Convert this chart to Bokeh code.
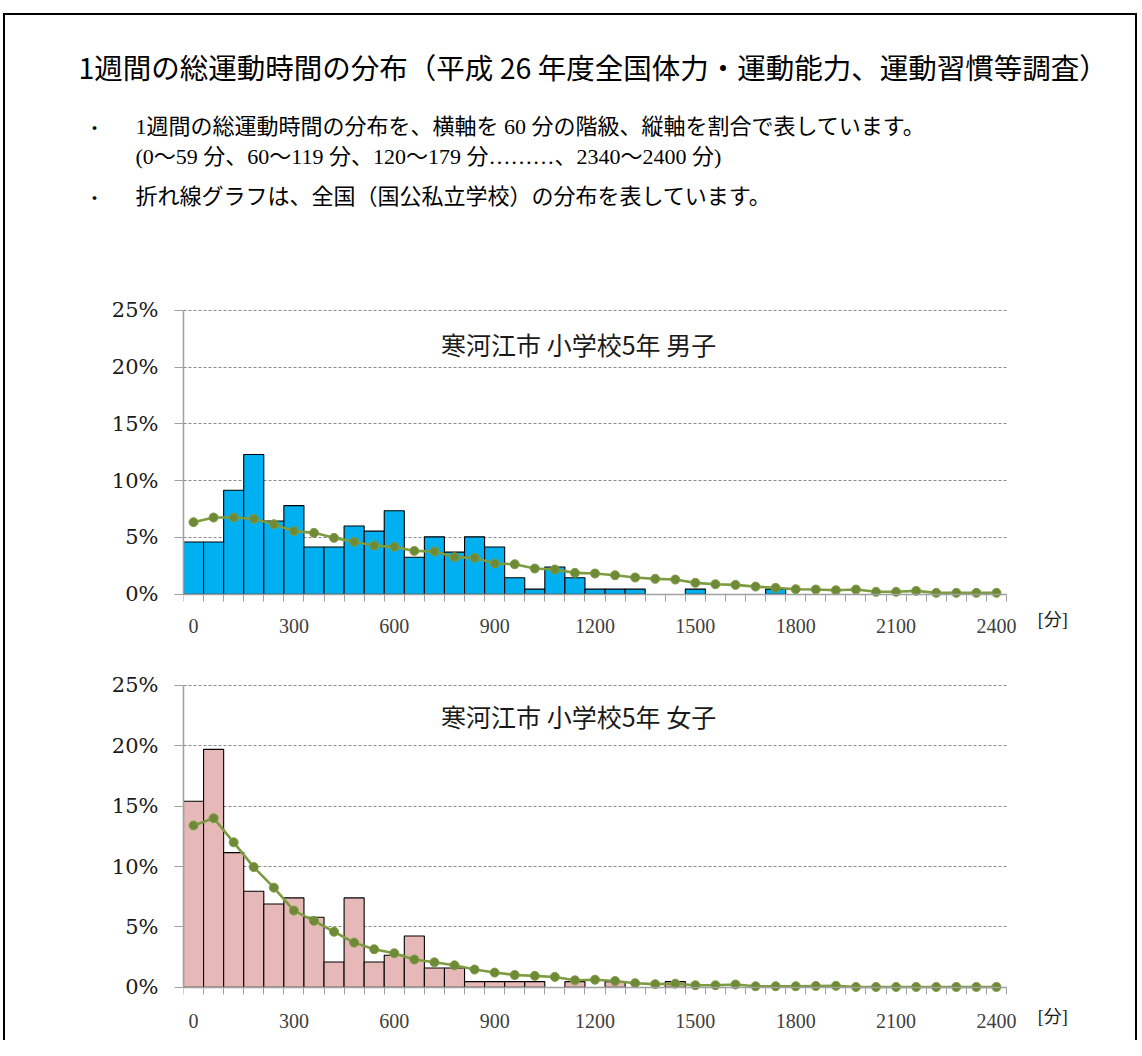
from bokeh.plotting import figure
from bokeh.models import Range1d, FixedTicker, PrintfTickFormatter, ColumnDataSource, Grid
from bokeh.layouts import column
from bokeh.core.properties import value
from bokeh.embed import file_html
from bokeh.resources import INLINE

# ---------------- data ----------------
minutes = list(range(0, 2401, 60))          # 41 classes: 0, 60, ... 2400
x_ticks = [0, 300, 600, 900, 1200, 1500, 1800, 2100, 2400]
x_tick_labels = ["0", "300", "600", "900", "1200", "1500", "1800", "2100", "2400"]
y_ticks = [0, 5, 10, 15, 20, 25]

boys_city = [4.6, 4.6, 9.15, 12.3, 6.45, 7.8, 4.15, 4.15, 6.0, 5.55,
             7.35, 3.25, 5.05, 3.7, 5.05, 4.15, 1.45, 0.45, 2.4, 1.45,
             0.45, 0.45, 0.45, 0, 0, 0.45, 0, 0, 0, 0.45,
             0, 0, 0, 0, 0, 0, 0, 0, 0, 0, 0]
boys_national = [6.34, 6.75, 6.75, 6.63, 6.16, 5.55, 5.40, 4.96, 4.61, 4.28,
                 4.17, 3.81, 3.76, 3.26, 3.20, 2.70, 2.64, 2.26, 2.17, 1.88,
                 1.82, 1.67, 1.47, 1.35, 1.29, 1.00, 0.88, 0.82, 0.67, 0.56,
                 0.44, 0.41, 0.35, 0.41, 0.21, 0.21, 0.29, 0.12, 0.12, 0.12, 0.12]
girls_city = [15.4, 19.7, 11.15, 7.95, 6.9, 7.4, 5.8, 2.1, 7.4, 2.1,
              2.65, 4.25, 1.6, 1.6, 0.47, 0.47, 0.47, 0.47, 0, 0.47,
              0, 0.47, 0, 0, 0.47, 0, 0, 0, 0, 0,
              0, 0, 0, 0, 0, 0, 0, 0, 0, 0, 0]
girls_national = [13.4, 14.0, 12.0, 9.95, 8.25, 6.35, 5.5, 4.6, 3.7, 3.15,
                  2.82, 2.3, 2.07, 1.82, 1.47, 1.22, 1.02, 0.95, 0.86, 0.58,
                  0.63, 0.52, 0.34, 0.26, 0.3, 0.17, 0.17, 0.23, 0.09, 0.09,
                  0.09, 0.11, 0.12, 0.03, 0.03, 0.03, 0.03, 0.03, 0.03, 0.03, 0.03]

title_text = "1週間の総運動時間の分布（平成 26 年度全国体力・運動能力、運動習慣等調査）"
note1 = "1週間の総運動時間の分布を、横軸を 60 分の階級、縦軸を割合で表しています。"
note2 = "(0～59 分、60～119 分、120～179 分………、2340～2400 分)"
note3 = "折れ線グラフは、全国（国公私立学校）の分布を表しています。"
boys_title = "寒河江市 小学校5年 男子"
girls_title = "寒河江市 小学校5年 女子"
unit_label = "[分]"

# ---------------- layout constants ----------------
W = 1130
OX, OY = 5, 15          # page position of the canvas origin
GOTHIC = "Noto Sans CJK JP"
MINCHO = "Liberation Serif, Noto Sans CJK JP"
LEFT = 178              # canvas x of the plot frame's left edge
PX_PER_MIN = 823 / 2460
FW = 897                # frame width (extends right to hold the unit label)
X_END = -30 + FW / PX_PER_MIN

header = figure(width=W, height=275, x_range=Range1d(0, W), y_range=Range1d(275, 0),
                output_backend="svg", toolbar_location=None, min_border=0,
                x_axis_location=None, y_axis_location=None)
if "frame_align" in header.properties():
    header.frame_align = False
else:
    header.x_range = Range1d(LEFT, LEFT + FW)
header.grid.visible = False
header.outline_line_color = None
r1 = header.text(x=[78 - OX], y=[66 - OY], text=[title_text], text_font=value(GOTHIC),
                 text_font_size="28.5px", text_baseline="middle", text_align="left", text_color="#000000")
r2 = header.text(x=[94 - OX, 94 - OX], y=[126 - OY, 196 - OY], text=["・", "・"], text_font=value(GOTHIC),
                 text_font_size="18px", text_baseline="middle", text_align="center", text_color="#000000")
r3 = header.text(x=[135 - OX, 135 - OX, 135 - OX], y=[126 - OY, 156 - OY, 196 - OY],
                 text=[note1, note2, note3], text_font=value(MINCHO),
                 text_font_size="22px", text_baseline="middle", text_align="left", text_color="#000000")
for r in (r1, r2, r3):
    r.level = "overlay"


def make_chart(city, national, color, title, height, top, ppu, below_px, label_standoff, unit_y, title_y):
    y_end = 25.15
    frame_h = int(round((y_end - 0) * ppu + below_px))
    y0 = y_end - frame_h / ppu
    p = figure(frame_width=FW, frame_height=frame_h,
               x_range=Range1d(-30, X_END), y_range=Range1d(y0, y_end),
               min_border_left=LEFT, min_border_right=W - LEFT - FW,
               min_border_top=top, min_border_bottom=height - top - frame_h,
               output_backend="svg", toolbar_location=None)
    p.outline_line_color = None
    p.xgrid.visible = False

    if "cross_bounds" in Grid.properties():
        p.ygrid.ticker = FixedTicker(ticks=y_ticks)
        p.ygrid.cross_bounds = (-30, 2430)
        p.ygrid.grid_line_color = "#8c8c8c"
        p.ygrid.grid_line_dash = "3 2"
        p.ygrid.grid_line_width = 1
    else:
        p.ygrid.visible = False
        p.segment(x0=[-30] * len(y_ticks), x1=[2430] * len(y_ticks), y0=y_ticks, y1=y_ticks,
                  line_color="#8c8c8c", line_dash="3 2", line_width=1)

    xs = [m for m, v in zip(minutes, city) if v > 0]
    vs = [v for v in city if v > 0]
    src = ColumnDataSource(dict(x=xs, top=vs))
    p.vbar(x="x", top="top", bottom=0, width=60, source=src,
           fill_color=color, line_color="#000000", line_width=1.1)

    p.line(minutes, national, line_color="#7d9c3f", line_width=2.6)
    p.scatter(minutes, national, size=9, fill_color="#6e8a36", line_color="#7f9c46", line_width=1)

    p.text(x=[1151], y=[title_y], text=[title], text_font=value(GOTHIC), text_font_size="25px",
           text_baseline="middle", text_align="center", text_color="#1a1a1a")
    p.text(x=[2568], y=[unit_y], text=[unit_label], text_font=value(MINCHO), text_font_size="18px",
           text_baseline="middle", text_align="center", text_color="#1a1a1a")

    xa = p.xaxis[0]
    xa.fixed_location = 0
    xa.bounds = (-30, 2430)
    xa.ticker = FixedTicker(ticks=x_ticks, minor_ticks=list(range(-30, 2431, 60)))
    xa.major_label_overrides = {t: s for t, s in zip(x_ticks, x_tick_labels)}
    xa.major_tick_out = 0
    xa.major_tick_in = 0
    xa.minor_tick_out = 7
    xa.minor_tick_in = 0
    xa.minor_tick_line_color = "#a0a0a0"
    xa.minor_tick_line_width = 1
    xa.axis_line_color = "#a0a0a0"
    xa.axis_line_width = 1.5
    xa.major_label_text_font = "Liberation Serif"
    xa.major_label_text_font_size = "20px"
    xa.major_label_text_color = "#404040"
    xa.major_label_standoff = label_standoff

    ya = p.yaxis[0]
    ya.bounds = (0, 25)
    ya.ticker = FixedTicker(ticks=y_ticks)
    ya.formatter = PrintfTickFormatter(format="%d%%")
    ya.major_tick_out = 9
    ya.major_tick_in = 0
    ya.minor_tick_out = 0
    ya.minor_tick_in = 0
    ya.major_tick_line_color = "#a0a0a0"
    ya.axis_line_color = "#a0a0a0"
    ya.axis_line_width = 1.5
    ya.major_label_text_font = "DejaVu Serif"
    ya.major_label_text_font_size = "21px"
    ya.major_label_text_color = "#1a1a1a"
    ya.major_label_standoff = 16
    return p


p1 = make_chart(boys_city, boys_national, "#00b0f0", boys_title, height=370, top=18,
                ppu=284 / 25, below_px=46, label_standoff=18, unit_y=-2.3, title_y=22.0)
p2 = make_chart(girls_city, girls_national, "#e6b9b8", girls_title, height=380, top=23,
                ppu=302 / 25, below_px=48, label_standoff=20, unit_y=-2.45, title_y=22.45)

layout = column(header, p1, p2, spacing=0,
                styles={"border-top": "2px solid #000000", "border-left": "2px solid #000000",
                        "border-right": "2px solid #000000", "position": "relative",
                        "left": "3px", "top": "13px"})

open("out.html", "w").write(file_html(layout, INLINE))
